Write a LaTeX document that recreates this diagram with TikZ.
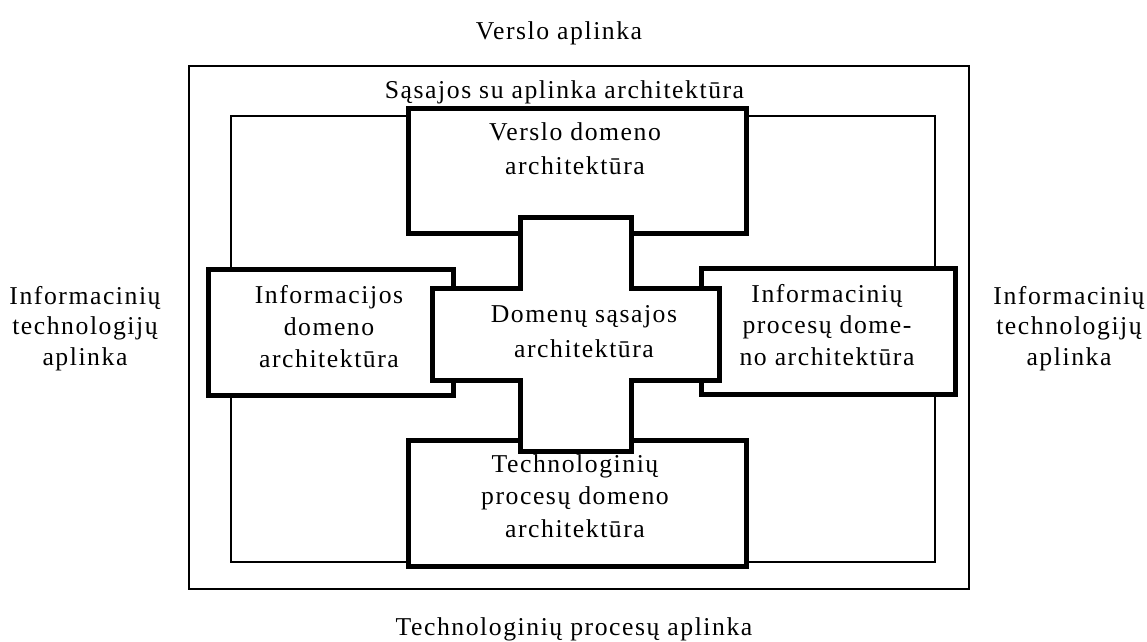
\documentclass[tikz,border=0pt]{standalone}
\usepackage{fontspec}
\setmainfont{Liberation Serif}[LetterSpace=6]
\begin{document}
\begin{tikzpicture}[x=1pt,y=-1pt,
  lbl/.style={font=\fontsize{25.7}{#1}\selectfont, align=center, inner sep=0pt, anchor=base},
  lbl/.default=32,
  frame/.style={draw, line width=1.5pt},
  domainbox/.style={draw, fill=white, line width=5pt, inner sep=0pt}]
\useasboundingbox (0,0) rectangle (1147,641);

% environment frame and interface-architecture frame
\node[frame, minimum width=780pt, minimum height=523pt, inner sep=0pt] (env) at (579,327.5) {};
\node[frame, minimum width=704pt, minimum height=446pt, inner sep=0pt] (iface) at (583,339) {};

% four domain architectures
\node[domainbox, minimum width=338pt, minimum height=125pt] (business) at (577,170.5) {};
\node[domainbox, minimum width=245pt, minimum height=126pt] (infodom) at (330.5,332) {};
\node[domainbox, minimum width=254pt, minimum height=126pt] (infoproc) at (828,331) {};
\node[domainbox, minimum width=338pt, minimum height=126pt] (techproc) at (577,503) {};

% domain interface architecture (cross)
\draw[fill=white, line width=5pt, line join=miter]
  (520,217) -- (631,217) -- (631,288) -- (719,288) -- (719,380) -- (631,380)
  -- (631,451) -- (520,451) -- (520,380) -- (432,380) -- (432,288) -- (520,288) -- cycle;

% labels (anchored at the baseline of the last line)
\node[lbl] (tBusinessEnv) at (559,39) {Verslo aplinka};
\node[lbl] (tIface) at (564.5,98) {Sąsajos su aplinka architektūra};
\node[lbl=34] (tBusiness) at (575,174) {Verslo domeno\\architektūra};
\node[lbl=30.5] (tItLeft) at (85,365) {Informacinių\\technologijų\\aplinka};
\node[lbl=30.5] (tItRight) at (1069,365) {Informacinių\\technologijų\\aplinka};
\node[lbl=32] (tInfoDom) at (329,367) {Informacijos\\domeno\\architektūra};
\node[lbl=35] (tCross) at (584,357) {Domenų sąsajos\\architektūra};
\node[lbl=31.5] (tInfoProc) at (827,365) {Informacinių\\procesų dome-\\no architektūra};
\node[lbl=32.5] (tTechProc) at (575,537) {Technologinių\\procesų domeno\\architektūra};
\node[lbl] (tTechEnv) at (574,635) {Technologinių procesų aplinka};
\end{tikzpicture}
\end{document}
